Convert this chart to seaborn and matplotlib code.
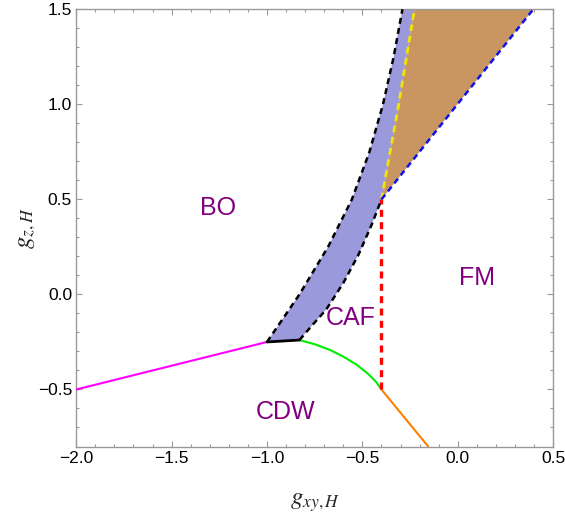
import numpy as np
import pandas as pd
import matplotlib
matplotlib.use("Agg")
import matplotlib.pyplot as plt
import seaborn as sns
from matplotlib.ticker import MultipleLocator, FuncFormatter

# phase boundaries (g_xy,H , g_z,H)
bo_cdw_x = [-2.0, -1.0]
bo_cdw_y = [-0.5, -0.25]
band_base_x = [-1.0, -0.83]
band_base_y = [-0.25, -0.24]
caf_cdw_x = [-0.83, -0.75, -0.67, -0.60, -0.53, -0.47, -0.43, -0.4]
caf_cdw_y = [-0.24, -0.262, -0.292, -0.327, -0.37, -0.418, -0.458, -0.5]
fm_cdw_x = [-0.4, -0.155]
fm_cdw_y = [-0.5, -0.8]
caf_fm_x = [-0.4, -0.4]
caf_fm_y = [-0.5, 0.5]
band_left_x = [-1.0, -0.83, -0.68, -0.555, -0.463, -0.392, -0.336, -0.29]
band_left_y = [-0.25, 0.0, 0.25, 0.5, 0.75, 1.0, 1.25, 1.5]
band_right_x = [-0.83, -0.77, -0.69, -0.60, -0.52, -0.45, -0.4]
band_right_y = [-0.24, -0.17, -0.08, 0.06, 0.21, 0.37, 0.5]
yellow_x = [-0.4, -0.315, -0.227]
yellow_y = [0.5, 0.97, 1.5]
blue_x = [-0.4, 0.396]
blue_y = [0.5, 1.5]

phase_names = ["BO", "FM", "CAF", "CDW"]
phase_x = [-1.255, 0.102, -0.56, -0.904]
phase_y = [0.454, 0.086, -0.125, -0.616]

sns.set_style("ticks")
plt.rcParams["font.family"] = ["Liberation Sans", "DejaVu Sans"]
plt.rcParams["mathtext.fontset"] = "stix"

fig, ax = plt.subplots(figsize=(5.65, 5.15), dpi=100)
fig.subplots_adjust(left=0.135, right=0.979, top=0.982, bottom=0.133)

# filled regions
band_x = band_left_x + yellow_x[::-1] + band_right_x[::-1]
band_y = band_left_y + yellow_y[::-1] + band_right_y[::-1]
ax.fill(band_x, band_y, color="#9999dc", lw=0, zorder=1)
tri_x = yellow_x + blue_x[::-1]
tri_y = yellow_y + blue_y[::-1]
ax.fill(tri_x, tri_y, color="#c99662", lw=0, zorder=1)

def line(xs, ys, **kw):
  df = pd.DataFrame({"x": xs, "y": ys})
  sns.lineplot(data=df, x="x", y="y", sort=False, estimator=None, ax=ax, **kw)

dash = dict(dashes=(2.4, 1.7), dash_capstyle="butt")
line(bo_cdw_x, bo_cdw_y, color="#ff00ff", lw=1.5, zorder=3)
line(caf_cdw_x, caf_cdw_y, color="#00ee00", lw=1.5, zorder=3)
line(fm_cdw_x, fm_cdw_y, color="#ff8000", lw=1.5, zorder=3)
line(band_base_x, band_base_y, color="black", lw=2.0, zorder=4)
line(caf_fm_x, caf_fm_y, color="#ff0000", lw=2.4, dashes=(2.1, 1.6),
     dash_capstyle="butt", zorder=3)
line(band_left_x, band_left_y, color="black", lw=1.8, zorder=4, **dash)
line(band_right_x, band_right_y, color="black", lw=1.8, zorder=4, **dash)
line(yellow_x, yellow_y, color="#f2e600", lw=2.0, zorder=4, **dash)
line(blue_x, blue_y, color="#1010ee", lw=1.8, zorder=4, **dash)

for name, px, py in zip(phase_names, phase_x, phase_y):
  ax.text(px, py, name, color="#800080", fontsize=18, ha="center", va="center")

ax.set_xlim(-2.0, 0.5)
ax.set_ylim(-0.8, 1.5)
fmt = FuncFormatter(lambda v, pos: f"{v:.1f}".replace("-", "\u2212"))
for axis in (ax.xaxis, ax.yaxis):
  axis.set_major_locator(MultipleLocator(0.5))
  axis.set_minor_locator(MultipleLocator(0.1))
  axis.set_major_formatter(fmt)
ax.tick_params(which="both", direction="in", top=True, right=True,
               color="#999999", labelsize=12.5, labelcolor="black", pad=3)
ax.tick_params(which="major", length=4, width=0.8)
ax.tick_params(which="minor", length=2, width=0.8)
for sp in ax.spines.values():
  sp.set_color("#999999")
  sp.set_linewidth(1.0)

ax.set_xlabel(r"$g_{xy,H}$", fontsize=18)
ax.set_ylabel(r"$g_{z,H}$", fontsize=18)
ax.xaxis.set_label_coords(0.5, -0.1)
ax.yaxis.set_label_coords(-0.08, 0.5)

fig.savefig("out.png", dpi=100)
